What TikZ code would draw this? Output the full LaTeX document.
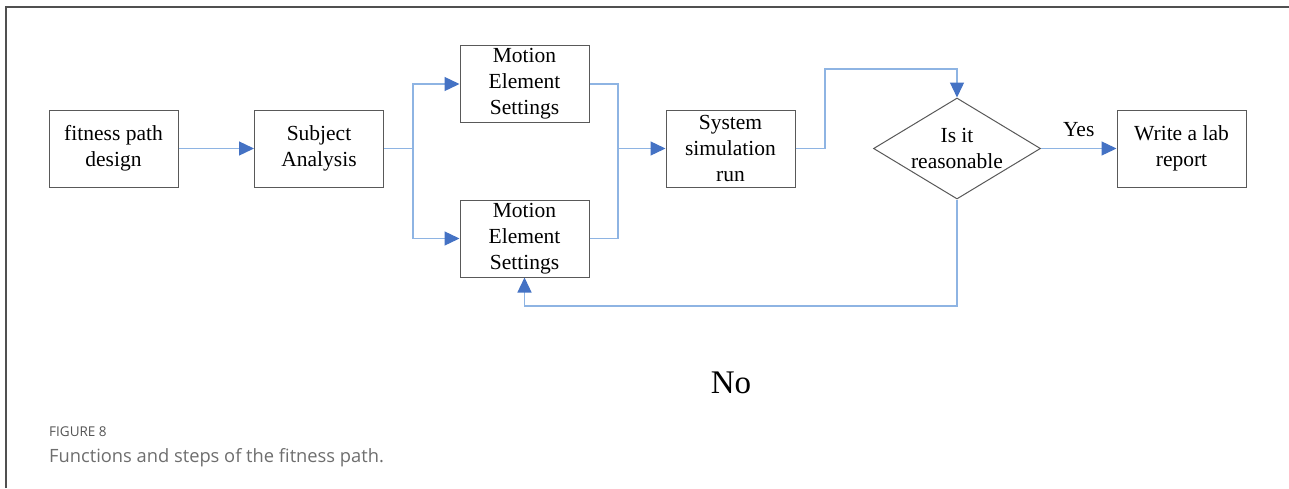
\documentclass[tikz,border=0pt]{standalone}
\usepackage{fontspec}
\setmainfont{Liberation Serif}
\newfontfamily\capfont{Open Sans}
\usetikzlibrary{arrows.meta,shapes.geometric}
\definecolor{linkblue}{RGB}{142,180,227}
\definecolor{tipblue}{RGB}{68,114,196}
\definecolor{edgegray}{RGB}{89,89,89}
\definecolor{framegray}{RGB}{80,80,80}
\definecolor{capgray}{RGB}{110,110,110}
\definecolor{labgray}{RGB}{85,85,85}
\tikzset{
  stepbox/.style={draw=edgegray, line width=1pt, minimum width=129pt, minimum height=77pt,
    inner sep=0pt, align=center, font=\fontsize{21.5}{26}\selectfont},
  decision/.style={draw=edgegray, line width=1pt, shape=diamond, minimum width=167pt,
    minimum height=101pt, inner sep=0pt},
  boxtext/.style={align=center, inner sep=0pt, font=\fontsize{21.5}{26}\selectfont},
  link/.style={draw=linkblue, line width=1.3pt},
  conn/.style={link, -{Triangle[length=15pt,width=14pt,color=tipblue]}},
}
\begin{document}
\begin{tikzpicture}[x=1pt,y=-1pt]
\useasboundingbox (0,0) rectangle (1289,488);
\fill[white] (0,0) rectangle (1289,488);
% outer frame (top and left edges)
\draw[framegray, line width=1.6pt] (6,488) -- (6,7) -- (1289,7);

% process boxes
\node[stepbox] (design) at (113.5,148.5) {fitness path\\design};
\node[stepbox] (subj)   at (319,148.5)   {Subject\\Analysis};
\node[stepbox] (mot1)   at (524.5,84)    {Motion\\Element\\Settings};
\node[stepbox] (mot2)   at (524.5,238.5) {Motion\\Element\\Settings};
\node[stepbox] (sim)    at (730.5,148.5) {System\\simulation\\run};
\node[decision] (dec)   at (957,148.5) {};
\node[boxtext] (dectext) at (dec.center) {Is it\\reasonable};
\node[stepbox] (rep)    at (1181.5,148.5) {Write a lab\\report};

% junction points
\coordinate (split) at (413,148.5);
\coordinate (merge) at (618,148.5);
\coordinate (rise)  at (825,69);
\coordinate (back)  at (957,306);

% connectors
\draw[conn] (design.east) -- (subj.west);
\draw[link] (subj.east) -- (split);
\draw[conn] (split) |- (mot1.west);
\draw[conn] (split) |- (mot2.west);
\draw[link] (mot1.east) -| (merge);
\draw[link] (mot2.east) -| (merge);
\draw[conn] (merge) -- (sim.west);
\draw[conn] (sim.east) -| (rise) -| (dec.north);
\draw[conn] (dec.east) -- node[boxtext, above=11pt] (yes) {Yes} (rep.west);
\draw[conn] (dec.south) -- (back) -| (mot2.south);

\node[font=\fontsize{33}{40}\selectfont] (no) at (731,383) {No};

% caption
\node[anchor=west, inner sep=0pt, text=labgray, font=\capfont\fontsize{13.5}{16}\selectfont] (fig) at (49,432) {FIGURE 8};
\node[anchor=west, inner sep=0pt, text=capgray, font=\capfont\fontsize{18.3}{22}\selectfont] (cap) at (49,458) {Functions and steps of the fitness path.};
\end{tikzpicture}
\end{document}
